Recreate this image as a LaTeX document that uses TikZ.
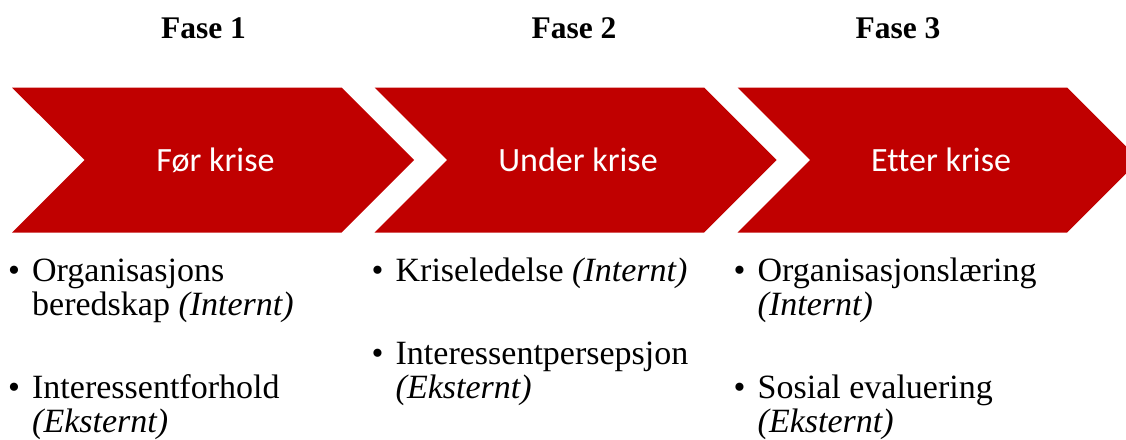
\documentclass[tikz,border=0pt]{standalone}
\usepackage{fontspec}
\setmainfont{Liberation Serif}
\newfontfamily\calibri[Ligatures=CommonOff]{Carlito}
\usetikzlibrary{positioning,shapes.symbols}
\definecolor{krisered}{HTML}{C00000}
\tikzset{%
	fase/.style  = {signal, signal from=west, signal to=east, fill=krisered, minimum width=402pt, minimum height=145pt, inner sep=0pt, text=white, font=\calibri\fontsize{34}{40}\selectfont},
	head/.style  = {anchor=base, font=\bfseries\fontsize{31.5}{36}\selectfont},
	item/.style  = {anchor=north west, inner sep=0pt, font=\fontsize{34}{34}\selectfont},
}
\newcommand{\punkt}[1]{\makebox[24pt][l]{\textbullet}\begin{tabular}[t]{@{}l@{}}#1\end{tabular}}

\begin{document}
\begin{tikzpicture}[x=1pt,y=-1pt,node distance=49pt]
	\path[use as bounding box,clip] (0,0) rectangle (1126,439);
	\node [fase] (foer) at (213,160) {\hspace{5pt}Før krise};
	\node [fase] (under) at (575.5,160) {\hspace{5pt}Under krise};
	\node [fase] (etter) at (938.5,160) {\hspace{5pt}Etter krise};
	
	\node [head] (fase1) at (203.5,38) {Fase 1};
	\node [head] (fase2) at (574,38) {Fase 2};
	\node [head] (fase3) at (898,38) {Fase 3};
	
	\node [item] (foer1) at (8,257.2) {\punkt{Organisasjons\\beredskap \textit{(Internt)}}};
	\node [item] (foer2) [below=of foer1.south west, anchor=north west] {\punkt{Interessentforhold\\\textit{(Eksternt)}}};
	\node [item] (under1) at (371.5,257.2) {\punkt{Kriseledelse \textit{(Internt)}}};
	\node [item] (under2) [below=of under1.south west, anchor=north west] {\punkt{Interessentpersepsjon\\\textit{(Eksternt)}}};
	\node [item] (etter1) at (733.5,257.2) {\punkt{Organisasjonslæring\\\textit{(Internt)}}};
	\node [item] (etter2) [below=of etter1.south west, anchor=north west] {\punkt{Sosial evaluering\\\textit{(Eksternt)}}};
\end{tikzpicture}
\end{document}
